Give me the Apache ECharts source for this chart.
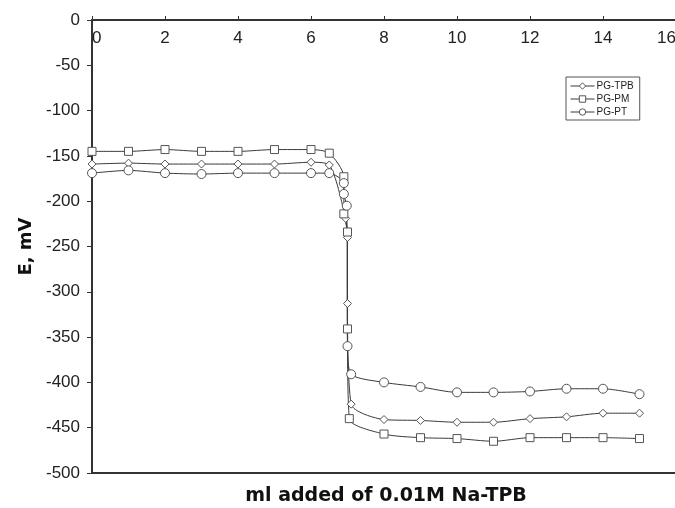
<!DOCTYPE html>
<html>
<head>
<meta charset="utf-8">
<script src="https://cdn.jsdelivr.net/npm/echarts@6/dist/echarts.min.js"></script>
<style>
  html, body { margin: 0; padding: 0; background: #fff; }
  #chart { width: 675px; height: 508px; }
</style>
</head>
<body>
<div id="chart"></div>
<script>
// ml of titrant added vs potential (mV)
var tpbX = [0, 1, 2, 3, 4, 5, 6, 6.5, 6.95, 7.0, 7.0, 7.1, 8, 9, 10, 11, 12, 13, 14, 15];
var tpbY = [-159, -158, -159, -159, -159, -159, -157, -160, -219, -240, -313, -424, -441, -442, -444, -444, -440, -438, -434, -434];

var pmX = [0, 1, 2, 3, 4, 5, 6, 6.5, 6.9, 6.9, 7.0, 7.0, 7.05, 8, 9, 10, 11, 12, 13, 14, 15];
var pmY = [-145, -145, -143, -145, -145, -143, -143, -147, -173, -214, -234, -341, -440, -457, -461, -462, -465, -461, -461, -461, -462];

var ptX = [0, 1, 2, 3, 4, 5, 6, 6.5, 6.9, 6.9, 6.98, 7.0, 7.1, 8, 9, 10, 11, 12, 13, 14, 15];
var ptY = [-169, -166, -169, -170, -169, -169, -169, -169, -180, -192, -205, -360, -391, -400, -405, -411, -411, -410, -407, -407, -413];

var xTicks = [0, 2, 4, 6, 8, 10, 12, 14, 16];

function pairs(xs, ys) {
    var out = [];
    for (var i = 0; i < xs.length; i++) out.push([xs[i], ys[i]]);
    return out;
}

function makeSeries(name, symbol, size, xs, ys) {
    return {
        name: name,
        type: 'line',
        data: pairs(xs, ys),
        smooth: 0.25,
        symbol: symbol,
        symbolSize: size,
        lineStyle: { color: '#3a3a3a', width: 1 },
        itemStyle: { color: '#fff', borderColor: '#555', borderWidth: 1 }
    };
}

var chart = echarts.init(document.getElementById('chart'));

chart.setOption({
    animation: false,
    backgroundColor: '#fff',
    textStyle: { fontFamily: 'Liberation Sans, Arial, sans-serif' },
    grid: {
        left: 92, top: 20, width: 584, height: 453,
        outerBoundsMode: 'none'
    },
    title: {
        text: 'ml added of 0.01M Na-TPB',
        left: 381, top: 482, textAlign: 'center',
        textStyle: { fontSize: 19, fontWeight: 'bold', color: '#111', fontFamily: 'DejaVu Sans' }
    },
    legend: {
        orient: 'vertical',
        left: 566, top: 77,
        padding: [4, 6, 3, 4],
        itemGap: 3,
        itemWidth: 24, itemHeight: 8,
        borderColor: '#555', borderWidth: 1,
        backgroundColor: '#fff',
        lineStyle: { width: 1 },
        itemStyle: { borderWidth: 1 },
        textStyle: { fontSize: 10, color: '#222', padding: [0, 0, 0, -3] },
        data: ['PG-TPB', 'PG-PM', 'PG-PT']
    },
    xAxis: [{
        type: 'value',
        position: 'top',
        min: 0, max: 16, interval: 2,
        splitLine: { show: false },
        axisLine: { onZero: false, lineStyle: { color: '#333', width: 2 } },
        axisTick: { inside: false, length: 4, lineStyle: { color: '#333' } },
        axisLabel: {
            inside: true, margin: 10, fontSize: 17, color: '#222',
            alignMinLabel: 'left', alignMaxLabel: 'right',
            customValues: xTicks
        }
    }, {
        // plain bottom frame line
        type: 'value',
        position: 'bottom',
        min: 0, max: 16,
        splitLine: { show: false },
        axisLine: { onZero: false, lineStyle: { color: '#333', width: 2 } },
        axisTick: { show: false },
        axisLabel: { show: false }
    }],
    yAxis: {
        type: 'value',
        min: -500, max: 0, interval: 50,
        name: 'E, mV',
        nameLocation: 'middle',
        nameRotate: 90,
        nameGap: 54,
        nameTextStyle: { fontSize: 18, fontWeight: 'bold', color: '#111', fontFamily: 'DejaVu Sans' },
        splitLine: { show: false },
        axisLine: { lineStyle: { color: '#333', width: 2 } },
        axisTick: { length: 5, lineStyle: { color: '#333' } },
        axisLabel: { fontSize: 17, color: '#222', margin: 12 }
    },
    series: [
        makeSeries('PG-TPB', 'diamond', 8, tpbX, tpbY),
        makeSeries('PG-PM', 'rect', 8, pmX, pmY),
        makeSeries('PG-PT', 'circle', 9, ptX, ptY)
    ]
});
</script>
</body>
</html>
